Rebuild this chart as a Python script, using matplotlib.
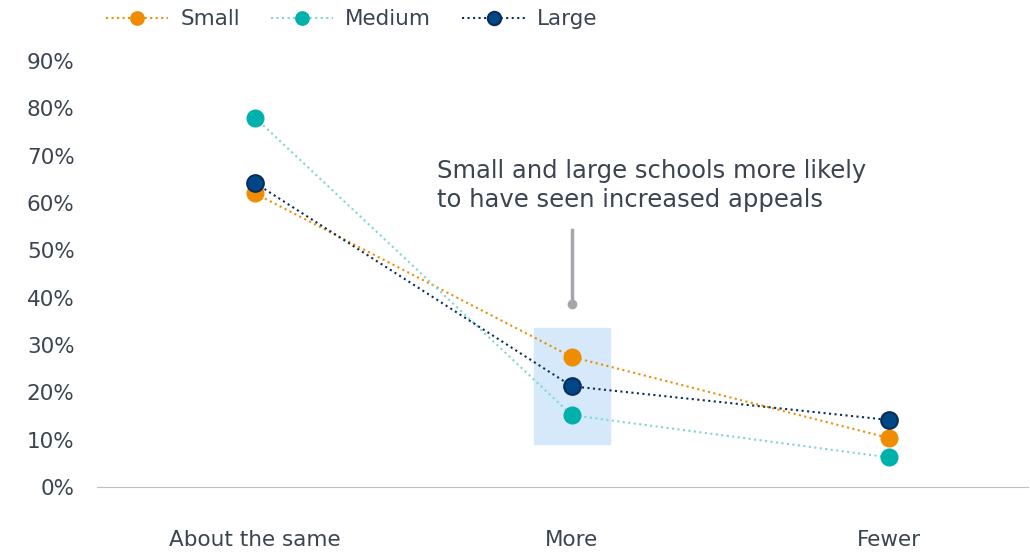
import matplotlib.pyplot as plt
from matplotlib.patches import Rectangle

categories = ['About the same', 'More', 'Fewer']
small = [0.62, 0.275, 0.104]
medium = [0.78, 0.152, 0.063]
large = [0.642, 0.213, 0.142]

text_color = '#3b4450'
plt.rcParams['font.family'] = 'DejaVu Sans'

fig = plt.figure(figsize=(10.3, 5.53), dpi=100)
ax = fig.add_axes([0.094, 0.119, 0.904, 0.771])

x = range(len(categories))
ax.add_patch(Rectangle((0.88, 0.091), 0.24, 0.245, color='#d5e9fb', zorder=0))

ax.plot(x, small, ':', color='#f08c00', lw=1.5, marker='o', ms=12,
        mfc='#f08c00', mec='#f08c00', label='Small', zorder=3)
ax.plot(x, medium, ':', color='#80d4d1', lw=1.5, marker='o', ms=12,
        mfc='#00b0aa', mec='#00b0aa', label='Medium', zorder=3)
ax.plot(x, large, ':', color='#0b2d55', lw=1.5, marker='o', ms=12,
        mfc='#004788', mec='#0b2d55', mew=1.5, label='Large', zorder=3)

# annotation
ax.plot([1, 1], [0.387, 0.543], color='#a5a7aa', lw=2.5, zorder=2)
ax.plot([1], [0.387], 'o', color='#a5a7aa', ms=6, zorder=2)
ax.text(0.575, 0.692, 'Small and large schools more likely\nto have seen increased appeals',
        fontsize=17.5, color=text_color, ha='left', va='top', linespacing=1.22)

ax.set_xlim(-0.5, 2.44)
ax.set_ylim(0, 0.9)
ax.set_xticks(list(x))
ax.set_xticklabels(categories)
ax.set_yticks([i / 10 for i in range(10)])
ax.set_yticklabels([f'{i * 10}%' for i in range(10)])
ax.tick_params(axis='both', length=0, labelsize=15.5, colors=text_color)
ax.tick_params(axis='x', pad=31)
ax.tick_params(axis='y', pad=16)
for s in ['top', 'right', 'left']:
    ax.spines[s].set_visible(False)
ax.spines['bottom'].set_color('#bfbfbf')

fig.legend(loc='upper left', bbox_to_anchor=(0.084, 1.018), ncol=3, frameon=False,
           fontsize=15.5, labelcolor=text_color, handlelength=2.9, columnspacing=1.45,
           handletextpad=0.55, markerscale=0.8)

fig.savefig('out.png', dpi=100)
